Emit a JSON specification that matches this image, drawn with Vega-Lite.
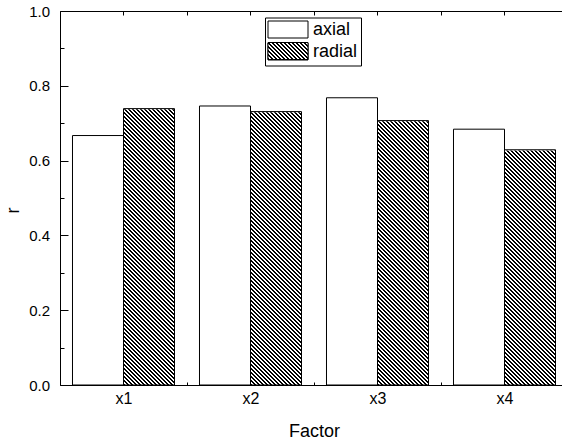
{
"$schema": "https://vega.github.io/schema/vega-lite/v6.json",
"width": 502,
"height": 374,
"autosize": {"type": "none"},
"padding": {"left": 60, "top": 11, "right": 0, "bottom": 57},
"background": "white",
"config": {
  "view": {"stroke": null},
  "font": "Liberation Sans",
  "axis": {"zindex": 1, "domainColor": "#000", "tickColor": "#000", "labelColor": "#000", "titleColor": "#000", "grid": false, "labelFont": "Liberation Sans", "titleFont": "Liberation Sans", "titleFontWeight": "normal", "labelFontSize": 15, "titleFontSize": 18, "domainWidth": 1, "tickWidth": 1}
},
"data": {"values": [
  {"Factor": "x1", "type": "axial", "r": 0.667},
  {"Factor": "x1", "type": "radial", "r": 0.739},
  {"Factor": "x2", "type": "axial", "r": 0.746},
  {"Factor": "x2", "type": "radial", "r": 0.731},
  {"Factor": "x3", "type": "axial", "r": 0.768},
  {"Factor": "x3", "type": "radial", "r": 0.707},
  {"Factor": "x4", "type": "axial", "r": 0.684},
  {"Factor": "x4", "type": "radial", "r": 0.629}
]},
"resolve": {"axis": {"x": "independent", "y": "independent"}},
"layer": [
  {
    "transform": [{"filter": "datum.type === 'radial'"}],
    "mark": {"type": "bar", "strokeWidth": 0, "fill": {"gradient": "linear", "x1": 0, "y1": 1, "x2": 0.2863837, "y2": -1.099982, "stops": [
{"offset":0,"color":"#000"},{"offset":0.002,"color":"#000"},{"offset":0.002,"color":"#fff"},{"offset":0.005,"color":"#fff"},{"offset":0.005,"color":"#000"},{"offset":0.007,"color":"#000"},{"offset":0.007,"color":"#fff"},{"offset":0.01,"color":"#fff"},
{"offset":0.01,"color":"#000"},{"offset":0.012,"color":"#000"},{"offset":0.012,"color":"#fff"},{"offset":0.015,"color":"#fff"},{"offset":0.015,"color":"#000"},{"offset":0.017,"color":"#000"},{"offset":0.017,"color":"#fff"},{"offset":0.02,"color":"#fff"},
{"offset":0.02,"color":"#000"},{"offset":0.022,"color":"#000"},{"offset":0.022,"color":"#fff"},{"offset":0.025,"color":"#fff"},{"offset":0.025,"color":"#000"},{"offset":0.027,"color":"#000"},{"offset":0.027,"color":"#fff"},{"offset":0.03,"color":"#fff"},
{"offset":0.03,"color":"#000"},{"offset":0.032,"color":"#000"},{"offset":0.032,"color":"#fff"},{"offset":0.035,"color":"#fff"},{"offset":0.035,"color":"#000"},{"offset":0.037,"color":"#000"},{"offset":0.037,"color":"#fff"},{"offset":0.04,"color":"#fff"},
{"offset":0.04,"color":"#000"},{"offset":0.042,"color":"#000"},{"offset":0.042,"color":"#fff"},{"offset":0.045,"color":"#fff"},{"offset":0.045,"color":"#000"},{"offset":0.047,"color":"#000"},{"offset":0.047,"color":"#fff"},{"offset":0.05,"color":"#fff"},
{"offset":0.05,"color":"#000"},{"offset":0.052,"color":"#000"},{"offset":0.052,"color":"#fff"},{"offset":0.055,"color":"#fff"},{"offset":0.055,"color":"#000"},{"offset":0.057,"color":"#000"},{"offset":0.057,"color":"#fff"},{"offset":0.06,"color":"#fff"},
{"offset":0.06,"color":"#000"},{"offset":0.062,"color":"#000"},{"offset":0.062,"color":"#fff"},{"offset":0.065,"color":"#fff"},{"offset":0.065,"color":"#000"},{"offset":0.067,"color":"#000"},{"offset":0.067,"color":"#fff"},{"offset":0.07,"color":"#fff"},
{"offset":0.07,"color":"#000"},{"offset":0.072,"color":"#000"},{"offset":0.072,"color":"#fff"},{"offset":0.075,"color":"#fff"},{"offset":0.075,"color":"#000"},{"offset":0.077,"color":"#000"},{"offset":0.077,"color":"#fff"},{"offset":0.08,"color":"#fff"},
{"offset":0.08,"color":"#000"},{"offset":0.082,"color":"#000"},{"offset":0.082,"color":"#fff"},{"offset":0.085,"color":"#fff"},{"offset":0.085,"color":"#000"},{"offset":0.087,"color":"#000"},{"offset":0.087,"color":"#fff"},{"offset":0.09,"color":"#fff"},
{"offset":0.09,"color":"#000"},{"offset":0.092,"color":"#000"},{"offset":0.092,"color":"#fff"},{"offset":0.095,"color":"#fff"},{"offset":0.095,"color":"#000"},{"offset":0.097,"color":"#000"},{"offset":0.097,"color":"#fff"},{"offset":0.1,"color":"#fff"},
{"offset":0.1,"color":"#000"},{"offset":0.102,"color":"#000"},{"offset":0.102,"color":"#fff"},{"offset":0.105,"color":"#fff"},{"offset":0.105,"color":"#000"},{"offset":0.107,"color":"#000"},{"offset":0.107,"color":"#fff"},{"offset":0.11,"color":"#fff"},
{"offset":0.11,"color":"#000"},{"offset":0.112,"color":"#000"},{"offset":0.112,"color":"#fff"},{"offset":0.115,"color":"#fff"},{"offset":0.115,"color":"#000"},{"offset":0.117,"color":"#000"},{"offset":0.117,"color":"#fff"},{"offset":0.12,"color":"#fff"},
{"offset":0.12,"color":"#000"},{"offset":0.122,"color":"#000"},{"offset":0.122,"color":"#fff"},{"offset":0.125,"color":"#fff"},{"offset":0.125,"color":"#000"},{"offset":0.127,"color":"#000"},{"offset":0.127,"color":"#fff"},{"offset":0.13,"color":"#fff"},
{"offset":0.13,"color":"#000"},{"offset":0.132,"color":"#000"},{"offset":0.132,"color":"#fff"},{"offset":0.135,"color":"#fff"},{"offset":0.135,"color":"#000"},{"offset":0.137,"color":"#000"},{"offset":0.137,"color":"#fff"},{"offset":0.14,"color":"#fff"},
{"offset":0.14,"color":"#000"},{"offset":0.142,"color":"#000"},{"offset":0.142,"color":"#fff"},{"offset":0.145,"color":"#fff"},{"offset":0.145,"color":"#000"},{"offset":0.147,"color":"#000"},{"offset":0.147,"color":"#fff"},{"offset":0.15,"color":"#fff"},
{"offset":0.15,"color":"#000"},{"offset":0.152,"color":"#000"},{"offset":0.152,"color":"#fff"},{"offset":0.155,"color":"#fff"},{"offset":0.155,"color":"#000"},{"offset":0.157,"color":"#000"},{"offset":0.157,"color":"#fff"},{"offset":0.16,"color":"#fff"},
{"offset":0.16,"color":"#000"},{"offset":0.162,"color":"#000"},{"offset":0.162,"color":"#fff"},{"offset":0.165,"color":"#fff"},{"offset":0.165,"color":"#000"},{"offset":0.167,"color":"#000"},{"offset":0.167,"color":"#fff"},{"offset":0.17,"color":"#fff"},
{"offset":0.17,"color":"#000"},{"offset":0.172,"color":"#000"},{"offset":0.172,"color":"#fff"},{"offset":0.175,"color":"#fff"},{"offset":0.175,"color":"#000"},{"offset":0.177,"color":"#000"},{"offset":0.177,"color":"#fff"},{"offset":0.18,"color":"#fff"},
{"offset":0.18,"color":"#000"},{"offset":0.182,"color":"#000"},{"offset":0.182,"color":"#fff"},{"offset":0.185,"color":"#fff"},{"offset":0.185,"color":"#000"},{"offset":0.187,"color":"#000"},{"offset":0.187,"color":"#fff"},{"offset":0.19,"color":"#fff"},
{"offset":0.19,"color":"#000"},{"offset":0.192,"color":"#000"},{"offset":0.192,"color":"#fff"},{"offset":0.195,"color":"#fff"},{"offset":0.195,"color":"#000"},{"offset":0.197,"color":"#000"},{"offset":0.197,"color":"#fff"},{"offset":0.2,"color":"#fff"},
{"offset":0.2,"color":"#000"},{"offset":0.202,"color":"#000"},{"offset":0.202,"color":"#fff"},{"offset":0.205,"color":"#fff"},{"offset":0.205,"color":"#000"},{"offset":0.207,"color":"#000"},{"offset":0.207,"color":"#fff"},{"offset":0.21,"color":"#fff"},
{"offset":0.21,"color":"#000"},{"offset":0.212,"color":"#000"},{"offset":0.212,"color":"#fff"},{"offset":0.215,"color":"#fff"},{"offset":0.215,"color":"#000"},{"offset":0.217,"color":"#000"},{"offset":0.217,"color":"#fff"},{"offset":0.22,"color":"#fff"},
{"offset":0.22,"color":"#000"},{"offset":0.222,"color":"#000"},{"offset":0.222,"color":"#fff"},{"offset":0.225,"color":"#fff"},{"offset":0.225,"color":"#000"},{"offset":0.227,"color":"#000"},{"offset":0.227,"color":"#fff"},{"offset":0.23,"color":"#fff"},
{"offset":0.23,"color":"#000"},{"offset":0.232,"color":"#000"},{"offset":0.232,"color":"#fff"},{"offset":0.235,"color":"#fff"},{"offset":0.235,"color":"#000"},{"offset":0.237,"color":"#000"},{"offset":0.237,"color":"#fff"},{"offset":0.24,"color":"#fff"},
{"offset":0.24,"color":"#000"},{"offset":0.242,"color":"#000"},{"offset":0.242,"color":"#fff"},{"offset":0.245,"color":"#fff"},{"offset":0.245,"color":"#000"},{"offset":0.247,"color":"#000"},{"offset":0.247,"color":"#fff"},{"offset":0.25,"color":"#fff"},
{"offset":0.25,"color":"#000"},{"offset":0.252,"color":"#000"},{"offset":0.252,"color":"#fff"},{"offset":0.255,"color":"#fff"},{"offset":0.255,"color":"#000"},{"offset":0.257,"color":"#000"},{"offset":0.257,"color":"#fff"},{"offset":0.26,"color":"#fff"},
{"offset":0.26,"color":"#000"},{"offset":0.262,"color":"#000"},{"offset":0.262,"color":"#fff"},{"offset":0.265,"color":"#fff"},{"offset":0.265,"color":"#000"},{"offset":0.267,"color":"#000"},{"offset":0.267,"color":"#fff"},{"offset":0.27,"color":"#fff"},
{"offset":0.27,"color":"#000"},{"offset":0.272,"color":"#000"},{"offset":0.272,"color":"#fff"},{"offset":0.275,"color":"#fff"},{"offset":0.275,"color":"#000"},{"offset":0.277,"color":"#000"},{"offset":0.277,"color":"#fff"},{"offset":0.28,"color":"#fff"},
{"offset":0.28,"color":"#000"},{"offset":0.282,"color":"#000"},{"offset":0.282,"color":"#fff"},{"offset":0.285,"color":"#fff"},{"offset":0.285,"color":"#000"},{"offset":0.287,"color":"#000"},{"offset":0.287,"color":"#fff"},{"offset":0.29,"color":"#fff"},
{"offset":0.29,"color":"#000"},{"offset":0.292,"color":"#000"},{"offset":0.292,"color":"#fff"},{"offset":0.295,"color":"#fff"},{"offset":0.295,"color":"#000"},{"offset":0.297,"color":"#000"},{"offset":0.297,"color":"#fff"},{"offset":0.3,"color":"#fff"},
{"offset":0.3,"color":"#000"},{"offset":0.302,"color":"#000"},{"offset":0.302,"color":"#fff"},{"offset":0.305,"color":"#fff"},{"offset":0.305,"color":"#000"},{"offset":0.307,"color":"#000"},{"offset":0.307,"color":"#fff"},{"offset":0.31,"color":"#fff"},
{"offset":0.31,"color":"#000"},{"offset":0.312,"color":"#000"},{"offset":0.312,"color":"#fff"},{"offset":0.315,"color":"#fff"},{"offset":0.315,"color":"#000"},{"offset":0.317,"color":"#000"},{"offset":0.317,"color":"#fff"},{"offset":0.32,"color":"#fff"},
{"offset":0.32,"color":"#000"},{"offset":0.322,"color":"#000"},{"offset":0.322,"color":"#fff"},{"offset":0.325,"color":"#fff"},{"offset":0.325,"color":"#000"},{"offset":0.327,"color":"#000"},{"offset":0.327,"color":"#fff"},{"offset":0.33,"color":"#fff"},
{"offset":0.33,"color":"#000"},{"offset":0.332,"color":"#000"},{"offset":0.332,"color":"#fff"},{"offset":0.335,"color":"#fff"},{"offset":0.335,"color":"#000"},{"offset":0.337,"color":"#000"},{"offset":0.337,"color":"#fff"},{"offset":0.34,"color":"#fff"},
{"offset":0.34,"color":"#000"},{"offset":0.342,"color":"#000"},{"offset":0.342,"color":"#fff"},{"offset":0.345,"color":"#fff"},{"offset":0.345,"color":"#000"},{"offset":0.347,"color":"#000"},{"offset":0.347,"color":"#fff"},{"offset":0.35,"color":"#fff"},
{"offset":0.35,"color":"#000"},{"offset":0.352,"color":"#000"},{"offset":0.352,"color":"#fff"},{"offset":0.355,"color":"#fff"},{"offset":0.355,"color":"#000"},{"offset":0.357,"color":"#000"},{"offset":0.357,"color":"#fff"},{"offset":0.36,"color":"#fff"},
{"offset":0.36,"color":"#000"},{"offset":0.362,"color":"#000"},{"offset":0.362,"color":"#fff"},{"offset":0.365,"color":"#fff"},{"offset":0.365,"color":"#000"},{"offset":0.367,"color":"#000"},{"offset":0.367,"color":"#fff"},{"offset":0.37,"color":"#fff"},
{"offset":0.37,"color":"#000"},{"offset":0.372,"color":"#000"},{"offset":0.372,"color":"#fff"},{"offset":0.375,"color":"#fff"},{"offset":0.375,"color":"#000"},{"offset":0.377,"color":"#000"},{"offset":0.377,"color":"#fff"},{"offset":0.38,"color":"#fff"},
{"offset":0.38,"color":"#000"},{"offset":0.382,"color":"#000"},{"offset":0.382,"color":"#fff"},{"offset":0.385,"color":"#fff"},{"offset":0.385,"color":"#000"},{"offset":0.387,"color":"#000"},{"offset":0.387,"color":"#fff"},{"offset":0.39,"color":"#fff"},
{"offset":0.39,"color":"#000"},{"offset":0.392,"color":"#000"},{"offset":0.392,"color":"#fff"},{"offset":0.395,"color":"#fff"},{"offset":0.395,"color":"#000"},{"offset":0.397,"color":"#000"},{"offset":0.397,"color":"#fff"},{"offset":0.4,"color":"#fff"},
{"offset":0.4,"color":"#000"},{"offset":0.402,"color":"#000"},{"offset":0.402,"color":"#fff"},{"offset":0.405,"color":"#fff"},{"offset":0.405,"color":"#000"},{"offset":0.407,"color":"#000"},{"offset":0.407,"color":"#fff"},{"offset":0.41,"color":"#fff"},
{"offset":0.41,"color":"#000"},{"offset":0.412,"color":"#000"},{"offset":0.412,"color":"#fff"},{"offset":0.415,"color":"#fff"},{"offset":0.415,"color":"#000"},{"offset":0.417,"color":"#000"},{"offset":0.417,"color":"#fff"},{"offset":0.42,"color":"#fff"},
{"offset":0.42,"color":"#000"},{"offset":0.422,"color":"#000"},{"offset":0.422,"color":"#fff"},{"offset":0.425,"color":"#fff"},{"offset":0.425,"color":"#000"},{"offset":0.427,"color":"#000"},{"offset":0.427,"color":"#fff"},{"offset":0.43,"color":"#fff"},
{"offset":0.43,"color":"#000"},{"offset":0.432,"color":"#000"},{"offset":0.432,"color":"#fff"},{"offset":0.435,"color":"#fff"},{"offset":0.435,"color":"#000"},{"offset":0.437,"color":"#000"},{"offset":0.437,"color":"#fff"},{"offset":0.44,"color":"#fff"},
{"offset":0.44,"color":"#000"},{"offset":0.442,"color":"#000"},{"offset":0.442,"color":"#fff"},{"offset":0.445,"color":"#fff"},{"offset":0.445,"color":"#000"},{"offset":0.447,"color":"#000"},{"offset":0.447,"color":"#fff"},{"offset":0.45,"color":"#fff"},
{"offset":0.45,"color":"#000"},{"offset":0.452,"color":"#000"},{"offset":0.452,"color":"#fff"},{"offset":0.455,"color":"#fff"},{"offset":0.455,"color":"#000"},{"offset":0.457,"color":"#000"},{"offset":0.457,"color":"#fff"},{"offset":0.46,"color":"#fff"},
{"offset":0.46,"color":"#000"},{"offset":0.462,"color":"#000"},{"offset":0.462,"color":"#fff"},{"offset":0.465,"color":"#fff"},{"offset":0.465,"color":"#000"},{"offset":0.467,"color":"#000"},{"offset":0.467,"color":"#fff"},{"offset":0.47,"color":"#fff"},
{"offset":0.47,"color":"#000"},{"offset":0.472,"color":"#000"},{"offset":0.472,"color":"#fff"},{"offset":0.475,"color":"#fff"},{"offset":0.475,"color":"#000"},{"offset":0.477,"color":"#000"},{"offset":0.477,"color":"#fff"},{"offset":0.48,"color":"#fff"},
{"offset":0.48,"color":"#000"},{"offset":0.482,"color":"#000"},{"offset":0.482,"color":"#fff"},{"offset":0.485,"color":"#fff"},{"offset":0.485,"color":"#000"},{"offset":0.487,"color":"#000"},{"offset":0.487,"color":"#fff"},{"offset":0.49,"color":"#fff"},
{"offset":0.49,"color":"#000"},{"offset":0.492,"color":"#000"},{"offset":0.492,"color":"#fff"},{"offset":0.495,"color":"#fff"},{"offset":0.495,"color":"#000"},{"offset":0.497,"color":"#000"},{"offset":0.497,"color":"#fff"},{"offset":0.5,"color":"#fff"},
{"offset":0.5,"color":"#000"},{"offset":0.502,"color":"#000"},{"offset":0.502,"color":"#fff"},{"offset":0.505,"color":"#fff"},{"offset":0.505,"color":"#000"},{"offset":0.507,"color":"#000"},{"offset":0.507,"color":"#fff"},{"offset":0.51,"color":"#fff"},
{"offset":0.51,"color":"#000"},{"offset":0.512,"color":"#000"},{"offset":0.512,"color":"#fff"},{"offset":0.515,"color":"#fff"},{"offset":0.515,"color":"#000"},{"offset":0.517,"color":"#000"},{"offset":0.517,"color":"#fff"},{"offset":0.52,"color":"#fff"},
{"offset":0.52,"color":"#000"},{"offset":0.522,"color":"#000"},{"offset":0.522,"color":"#fff"},{"offset":0.525,"color":"#fff"},{"offset":0.525,"color":"#000"},{"offset":0.527,"color":"#000"},{"offset":0.527,"color":"#fff"},{"offset":0.53,"color":"#fff"},
{"offset":0.53,"color":"#000"},{"offset":0.532,"color":"#000"},{"offset":0.532,"color":"#fff"},{"offset":0.535,"color":"#fff"},{"offset":0.535,"color":"#000"},{"offset":0.537,"color":"#000"},{"offset":0.537,"color":"#fff"},{"offset":0.54,"color":"#fff"}
    ]}},
    "encoding": {
      "x": {"field": "Factor", "type": "nominal", "scale": {"range": [0, 508], "paddingInner": 0, "paddingOuter": 0}, "axis": null},
      "xOffset": {"field": "type", "type": "nominal", "scale": {"paddingInner": 0, "paddingOuter": 0.245}},
      "y": {"datum": 1, "type": "quantitative", "scale": {"domain": [0, 1]}, "axis": null},
      "y2": {"datum": 0}
    }
  },
  {
    "transform": [{"filter": "datum.type === 'radial'"}],
    "mark": {"type": "bar", "fill": "#ffffff", "stroke": "#ffffff", "strokeWidth": 1.5},
    "encoding": {
      "x": {"field": "Factor", "type": "nominal", "axis": null},
      "xOffset": {"field": "type", "type": "nominal"},
      "y": {"field": "r", "type": "quantitative", "axis": null},
      "y2": {"datum": 1}
    }
  },
  {
    "mark": {"type": "bar", "stroke": "#000", "strokeWidth": 1},
    "encoding": {
      "x": {"field": "Factor", "type": "nominal",
        "axis": {"zindex": 1, "orient": "bottom", "title": "Factor", "tickBand": "extent", "tickSize": -3, "labelPadding": 21, "labelFontSize": 16, "labelBaseline": "alphabetic", "labelAngle": 0, "titleY": 51, "titleBaseline": "alphabetic"}},
      "xOffset": {"field": "type", "type": "nominal"},
      "y": {"field": "r", "type": "quantitative",
        "axis": {"zindex": 1, "orient": "left", "title": "r", "values": [0, 0.2, 0.4, 0.6, 0.8, 1], "format": ".1f", "tickSize": -8, "labelPadding": 18.5, "titleX": -42, "titleY": 199, "titleAngle": -90, "titleBaseline": "alphabetic", "titleAlign": "center"}},
      "fill": {"condition": {"test": "datum.type === 'radial'", "value": "transparent"}, "value": "#ffffff"},
      "opacity": {"field": "type", "type": "ordinal",
        "scale": {"domain": ["axial", "radial"], "range": [1, 1]},
        "legend": {
          "orient": "none", "legendX": 205, "legendY": 6.5, "title": null,
          "strokeColor": "#000", "padding": 3,
          "symbolType": "M-2.352941,-1L2.352941,-1L2.352941,1L-2.352941,1Z", "symbolSize": 289,
          "symbolStrokeWidth": 1, "symbolOffset": 11,
          "labelOffset": 16, "labelFontSize": 18, "labelFont": "Liberation Sans", "labelColor": "#000",
          "rowPadding": 0
        }}
    }
  },
  {
    "mark": {"type": "bar", "opacity": 0},
    "encoding": {
      "x": {"field": "Factor", "type": "nominal",
        "axis": {"zindex": 2, "orient": "top", "title": null, "labels": false, "tickBand": "extent", "tickSize": -4, "domain": true}},
      "xOffset": {"field": "type", "type": "nominal"},
      "y": {"field": "r", "type": "quantitative",
        "axis": {"zindex": 1, "orient": "left", "title": null, "labels": false, "domain": false, "values": [0.1, 0.3, 0.5, 0.7, 0.9], "tickSize": -4}}
    }
  },
  {
    "mark": {"type": "bar", "opacity": 0},
    "encoding": {
      "x": {"field": "Factor", "type": "nominal",
        "axis": {"zindex": 2, "orient": "top", "title": null, "labels": false, "tickSize": -4, "domain": false}},
      "xOffset": {"field": "type", "type": "nominal"},
      "y": {"field": "r", "type": "quantitative", "axis": null}
    }
  },
  {
    "transform": [{"filter": "false"}],
    "mark": {"type": "bar", "stroke": "#000", "strokeWidth": 1, "fill": {"gradient": "linear", "x1": 0, "y1": 1, "x2": 1.69402, "y2": 0.28004, "stops": [
{"offset":0,"color":"#000"},{"offset":0.02,"color":"#000"},{"offset":0.02,"color":"#fff"},{"offset":0.05,"color":"#fff"},
{"offset":0.05,"color":"#000"},{"offset":0.07,"color":"#000"},{"offset":0.07,"color":"#fff"},{"offset":0.1,"color":"#fff"},
{"offset":0.1,"color":"#000"},{"offset":0.12,"color":"#000"},{"offset":0.12,"color":"#fff"},{"offset":0.15,"color":"#fff"},
{"offset":0.15,"color":"#000"},{"offset":0.17,"color":"#000"},{"offset":0.17,"color":"#fff"},{"offset":0.2,"color":"#fff"},
{"offset":0.2,"color":"#000"},{"offset":0.22,"color":"#000"},{"offset":0.22,"color":"#fff"},{"offset":0.25,"color":"#fff"},
{"offset":0.25,"color":"#000"},{"offset":0.27,"color":"#000"},{"offset":0.27,"color":"#fff"},{"offset":0.3,"color":"#fff"},
{"offset":0.3,"color":"#000"},{"offset":0.32,"color":"#000"},{"offset":0.32,"color":"#fff"},{"offset":0.35,"color":"#fff"},
{"offset":0.35,"color":"#000"},{"offset":0.37,"color":"#000"},{"offset":0.37,"color":"#fff"},{"offset":0.4,"color":"#fff"},
{"offset":0.4,"color":"#000"},{"offset":0.42,"color":"#000"},{"offset":0.42,"color":"#fff"},{"offset":0.45,"color":"#fff"},
{"offset":0.45,"color":"#000"},{"offset":0.47,"color":"#000"},{"offset":0.47,"color":"#fff"},{"offset":0.5,"color":"#fff"},
{"offset":0.5,"color":"#000"},{"offset":0.52,"color":"#000"},{"offset":0.52,"color":"#fff"},{"offset":0.55,"color":"#fff"},
{"offset":0.55,"color":"#000"},{"offset":0.57,"color":"#000"},{"offset":0.57,"color":"#fff"},{"offset":0.6,"color":"#fff"},
{"offset":0.6,"color":"#000"},{"offset":0.62,"color":"#000"},{"offset":0.62,"color":"#fff"},{"offset":0.65,"color":"#fff"},
{"offset":0.65,"color":"#000"},{"offset":0.67,"color":"#000"},{"offset":0.67,"color":"#fff"},{"offset":0.7,"color":"#fff"},
{"offset":0.7,"color":"#000"},{"offset":0.72,"color":"#000"},{"offset":0.72,"color":"#fff"},{"offset":0.75,"color":"#fff"}
    ]}},
    "encoding": {
      "x": {"field": "Factor", "type": "nominal", "axis": null},
      "xOffset": {"field": "type", "type": "nominal"},
      "y": {"field": "r", "type": "quantitative", "axis": null},
      "strokeWidth": {"field": "type", "type": "ordinal",
        "scale": {"domain": ["radial"], "range": [1]},
        "legend": {
          "orient": "none", "legendX": 228, "legendY": 40, "title": null, "padding": 0,
          "symbolType": "M-2.352941,-1L2.352941,-1L2.352941,1L-2.352941,1Z", "symbolSize": 289,
          "symbolOffset": 11,
          "labelOffset": 16, "labelFontSize": 18, "labelExpr": "''"
        }}
    }
  }
]
}
